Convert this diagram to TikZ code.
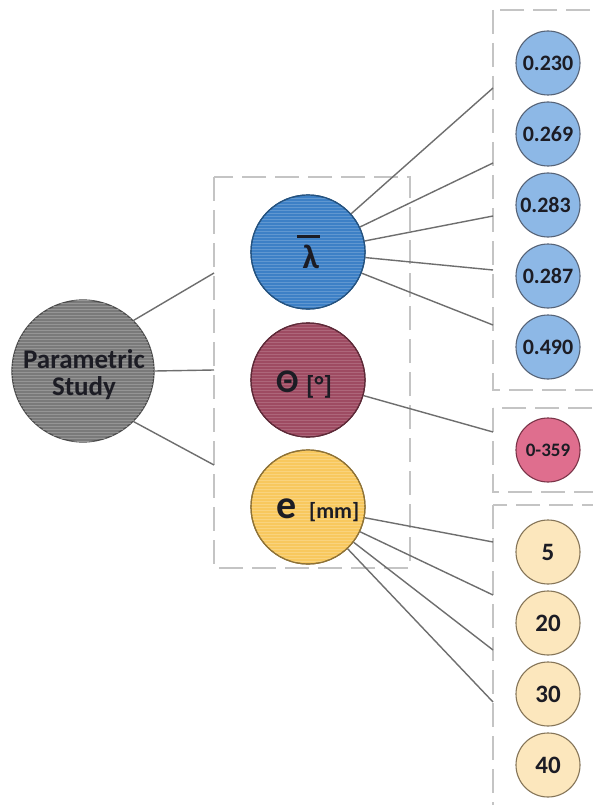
\documentclass[tikz,border=0pt]{standalone}
\usepackage{fontspec}
\setmainfont{Carlito}
\usetikzlibrary{patterns}
\definecolor{psgray}{HTML}{7A7A7A}
\definecolor{psedge}{HTML}{4A4A4A}
\definecolor{lamblue}{HTML}{3D80C6}
\definecolor{lamedge}{HTML}{24527F}
\definecolor{thred}{HTML}{9E4B62}
\definecolor{thedge}{HTML}{5E2A38}
\definecolor{eyel}{HTML}{F8C85E}
\definecolor{eedge}{HTML}{8E7236}
\definecolor{sblue}{HTML}{8DB8E6}
\definecolor{sbedge}{HTML}{566377}
\definecolor{spink}{HTML}{DF6E8E}
\definecolor{spedge}{HTML}{7A3448}
\definecolor{syel}{HTML}{FCE7BD}
\definecolor{syedge}{HTML}{857558}
\definecolor{linkgray}{HTML}{6E6E6E}
\definecolor{boxgray}{HTML}{C4C4C4}
\definecolor{txt}{HTML}{1C1C24}
\tikzset{
  bigc/.style={circle, draw, line width=1.2pt, minimum size=114pt, inner sep=0pt},
  smallc/.style={circle, draw, line width=1.1pt, minimum size=64pt, inner sep=0pt, text=txt, font=\bfseries\fontsize{22}{22}\selectfont},
  stripes/.style={postaction={pattern=horizontal lines, pattern color=#1}},
  lab/.style={text=txt, font=\bfseries, inner sep=0pt},
  link/.style={draw=linkgray, line width=1.4pt},
  dbox/.style={draw=boxgray, line width=1.2pt, dash pattern=on 24pt off 9pt}
}
\begin{document}
\begin{tikzpicture}[x=1pt,y=-1pt]
\useasboundingbox (0,0) rectangle (593,805);
\fill[white] (0,0) rectangle (593,805);
\begin{scope}
\clip (0,0) rectangle (593,805);
% dashed boxes
\draw[dbox] (214,177) rectangle (410,568);
\draw[dbox] (493,10) rectangle (640,390);
\draw[dbox] (493,408) rectangle (640,492);
\draw[dbox] (493,505) rectangle (640,860);

% box anchor coordinates
\coordinate (m1) at (214,273);
\coordinate (m2) at (214,370);
\coordinate (m3) at (214,465);
\coordinate (b1) at (493,88);
\coordinate (b2) at (493,163);
\coordinate (b3) at (493,216);
\coordinate (b4) at (493,270);
\coordinate (b5) at (493,325);
\coordinate (p1) at (493,432);
\coordinate (y1) at (493,542);
\coordinate (y2) at (493,595);
\coordinate (y3) at (493,650);
\coordinate (y4) at (493,702);

% main circles
\node[bigc, minimum size=142pt, draw=psedge, fill=psgray, stripes=psgray!80!white] (ps) at (83,371) {};
\node[bigc, draw=lamedge, fill=lamblue, stripes=lamblue!82!white] (lam) at (308,252) {};
\node[bigc, draw=thedge, fill=thred, stripes=thred!85!white] (th) at (308,380) {};
\node[bigc, draw=eedge, fill=eyel, stripes=eyel!80!white] (e) at (308,507) {};

% connectors
\draw[link] (ps.45) -- (m1);
\draw[link] (ps.east) -- (m2);
\draw[link] (ps.-45) -- (m3);
\foreach \c in {b1,b2,b3,b4,b5} \draw[link] (lam) -- (\c);
\draw[link] (th) -- (p1);
\foreach \c in {y1,y2,y3,y4} \draw[link] (e) -- (\c);
% redraw main circle borders over link starts
\draw[lamedge, line width=1.2pt] (lam) circle (57pt);
\draw[thedge, line width=1.2pt] (th) circle (57pt);
\draw[eedge, line width=1.2pt] (e) circle (57pt);

% labels of main circles
\node[lab, align=center, font=\bfseries\fontsize{27}{27}\selectfont] (pslab) at (84,375) {Parametric\\Study};
\node[lab, anchor=base, font=\bfseries\fontsize{34}{34}\selectfont] (lamlab) at (311,268) {λ};
\coordinate (barl) at (297,236.5);
\coordinate (barr) at (320,236.5);
\draw[txt, line width=3pt] (barl) -- (barr);
\node[lab, anchor=base west, font=\bfseries\fontsize{33}{33}\selectfont] (thlab) at (276,392) {Θ};
\node[lab, anchor=base west, font=\bfseries\fontsize{26}{26}\selectfont] (thunit) at (306,394) {[°]};
\node[lab, anchor=base west, font=\bfseries\fontsize{40}{40}\selectfont] (elab) at (276,518) {e};
\node[lab, anchor=base west, font=\bfseries\fontsize{22}{22}\selectfont] (eunit) at (309,518) {[mm]};

% small circles
\node[smallc, draw=sbedge, fill=sblue] (v1) at (548,63) {0.230};
\node[smallc, draw=sbedge, fill=sblue] (v2) at (548,134) {0.269};
\node[smallc, draw=sbedge, fill=sblue] (v3) at (548,205) {\hspace*{-5pt}0.283};
\node[smallc, draw=sbedge, fill=sblue] (v4) at (548,276) {0.287};
\node[smallc, draw=sbedge, fill=sblue] (v5) at (548,347) {0.490};
\node[smallc, draw=spedge, fill=spink, font=\bfseries\fontsize{19}{19}\selectfont] (t1) at (548,450) {0-359};
\node[smallc, draw=syedge, fill=syel, font=\bfseries\fontsize{25}{25}\selectfont] (e1) at (548,552) {5};
\node[smallc, draw=syedge, fill=syel, font=\bfseries\fontsize{25}{25}\selectfont] (e2) at (548,623) {20};
\node[smallc, draw=syedge, fill=syel, font=\bfseries\fontsize{25}{25}\selectfont] (e3) at (548,694) {30};
\node[smallc, draw=syedge, fill=syel, font=\bfseries\fontsize{25}{25}\selectfont] (e4) at (548,765) {40};
\end{scope}
\end{tikzpicture}
\end{document}
